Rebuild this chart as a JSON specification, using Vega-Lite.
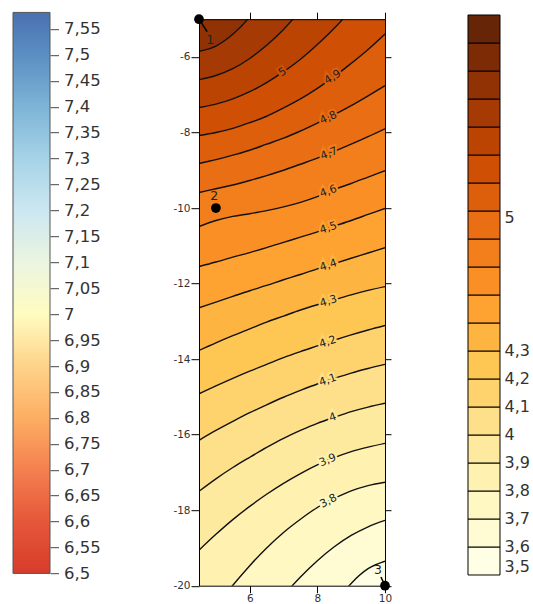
{
"$schema": "https://vega.github.io/schema/vega-lite/v6.json",
"padding": {"left": 12, "top": 11.2, "right": 0, "bottom": 0},
"config": {"view": {"stroke": null}, "font": "DejaVu Sans", "axis": {"labelFont": "DejaVu Sans"}},
"datasets": {
"grad": [{"lo": 6.5, "hi": 7.582}],
"bands": [
{"lo":3.5,"hi":3.6},{"lo":3.6,"hi":3.7},{"lo":3.7,"hi":3.8},{"lo":3.8,"hi":3.9},{"lo":3.9,"hi":4},
{"lo":4,"hi":4.1},{"lo":4.1,"hi":4.2},{"lo":4.2,"hi":4.3},{"lo":4.3,"hi":4.4},{"lo":4.4,"hi":4.5},
{"lo":4.5,"hi":4.6},{"lo":4.6,"hi":4.7},{"lo":4.7,"hi":4.8},{"lo":4.8,"hi":4.9},{"lo":4.9,"hi":5},
{"lo":5,"hi":5.1},{"lo":5.1,"hi":5.2},{"lo":5.2,"hi":5.3},{"lo":5.3,"hi":5.4},{"lo":5.4,"hi":5.5}
],
"contours": [
{"level":3.5,"x":4.5,"y":-30},{"level":3.5,"x":5,"y":-30},{"level":3.5,"x":5.5,"y":-30},{"level":3.5,"x":6,"y":-30},{"level":3.5,"x":6.5,"y":-30},{"level":3.5,"x":7,"y":-30},{"level":3.5,"x":7.5,"y":-30},{"level":3.5,"x":8,"y":-30},{"level":3.5,"x":8.5,"y":-30},{"level":3.5,"x":9,"y":-30},{"level":3.5,"x":9.5,"y":-30},{"level":3.5,"x":10,"y":-30},
{"level":3.6,"x":4.5,"y":-26},{"level":3.6,"x":5,"y":-25.5},{"level":3.6,"x":5.5,"y":-25},{"level":3.6,"x":6,"y":-24.5},{"level":3.6,"x":6.5,"y":-24},{"level":3.6,"x":7,"y":-23.03},{"level":3.6,"x":7.5,"y":-22.17},{"level":3.6,"x":8,"y":-21.24},{"level":3.6,"x":8.5,"y":-20.5},{"level":3.6,"x":9,"y":-19.94},{"level":3.6,"x":9.5,"y":-19.55},{"level":3.6,"x":10,"y":-19.35},
{"level":3.7,"x":4.5,"y":-23.71},{"level":3.7,"x":5,"y":-22.89},{"level":3.7,"x":5.5,"y":-22.14},{"level":3.7,"x":6,"y":-21.45},{"level":3.7,"x":6.5,"y":-20.82},{"level":3.7,"x":7,"y":-20.26},{"level":3.7,"x":7.5,"y":-19.77},{"level":3.7,"x":8,"y":-19.34},{"level":3.7,"x":8.5,"y":-18.97},{"level":3.7,"x":9,"y":-18.67},{"level":3.7,"x":9.5,"y":-18.44},{"level":3.7,"x":10,"y":-18.27},
{"level":3.8,"x":4.5,"y":-21.18},{"level":3.8,"x":5,"y":-20.56},{"level":3.8,"x":5.5,"y":-19.99},{"level":3.8,"x":6,"y":-19.47},{"level":3.8,"x":6.5,"y":-19.0},{"level":3.8,"x":7,"y":-18.59},{"level":3.8,"x":7.5,"y":-18.24},{"level":3.8,"x":8,"y":-17.93},{"level":3.8,"x":8.5,"y":-17.69},{"level":3.8,"x":9,"y":-17.49},{"level":3.8,"x":9.5,"y":-17.35},{"level":3.8,"x":10,"y":-17.26},
{"level":3.9,"x":4.5,"y":-19.06},{"level":3.9,"x":5,"y":-18.64},{"level":3.9,"x":5.5,"y":-18.25},{"level":3.9,"x":6,"y":-17.9},{"level":3.9,"x":6.5,"y":-17.58},{"level":3.9,"x":7,"y":-17.29},{"level":3.9,"x":7.5,"y":-17.03},{"level":3.9,"x":8,"y":-16.8},{"level":3.9,"x":8.5,"y":-16.61},{"level":3.9,"x":9,"y":-16.45},{"level":3.9,"x":9.5,"y":-16.33},{"level":3.9,"x":10,"y":-16.23},
{"level":4,"x":4.5,"y":-17.5},{"level":4,"x":5,"y":-17.17},{"level":4,"x":5.5,"y":-16.87},{"level":4,"x":6,"y":-16.6},{"level":4,"x":6.5,"y":-16.34},{"level":4,"x":7,"y":-16.1},{"level":4,"x":7.5,"y":-15.89},{"level":4,"x":8,"y":-15.7},{"level":4,"x":8.5,"y":-15.54},{"level":4,"x":9,"y":-15.39},{"level":4,"x":9.5,"y":-15.27},{"level":4,"x":10,"y":-15.17},
{"level":4.1,"x":4.5,"y":-16.15},{"level":4.1,"x":5,"y":-15.89},{"level":4.1,"x":5.5,"y":-15.65},{"level":4.1,"x":6,"y":-15.42},{"level":4.1,"x":6.5,"y":-15.21},{"level":4.1,"x":7,"y":-15.01},{"level":4.1,"x":7.5,"y":-14.83},{"level":4.1,"x":8,"y":-14.66},{"level":4.1,"x":8.5,"y":-14.51},{"level":4.1,"x":9,"y":-14.37},{"level":4.1,"x":9.5,"y":-14.25},{"level":4.1,"x":10,"y":-14.14},
{"level":4.2,"x":4.5,"y":-14.92},{"level":4.2,"x":5,"y":-14.71},{"level":4.2,"x":5.5,"y":-14.51},{"level":4.2,"x":6,"y":-14.32},{"level":4.2,"x":6.5,"y":-14.14},{"level":4.2,"x":7,"y":-13.96},{"level":4.2,"x":7.5,"y":-13.8},{"level":4.2,"x":8,"y":-13.65},{"level":4.2,"x":8.5,"y":-13.5},{"level":4.2,"x":9,"y":-13.36},{"level":4.2,"x":9.5,"y":-13.23},{"level":4.2,"x":10,"y":-13.11},
{"level":4.3,"x":4.5,"y":-13.77},{"level":4.3,"x":5,"y":-13.57},{"level":4.3,"x":5.5,"y":-13.38},{"level":4.3,"x":6,"y":-13.2},{"level":4.3,"x":6.5,"y":-13.02},{"level":4.3,"x":7,"y":-12.86},{"level":4.3,"x":7.5,"y":-12.7},{"level":4.3,"x":8,"y":-12.56},{"level":4.3,"x":8.5,"y":-12.43},{"level":4.3,"x":9,"y":-12.3},{"level":4.3,"x":9.5,"y":-12.18},{"level":4.3,"x":10,"y":-12.08},
{"level":4.4,"x":4.5,"y":-12.64},{"level":4.4,"x":5,"y":-12.49},{"level":4.4,"x":5.5,"y":-12.34},{"level":4.4,"x":6,"y":-12.19},{"level":4.4,"x":6.5,"y":-12.05},{"level":4.4,"x":7,"y":-11.9},{"level":4.4,"x":7.5,"y":-11.76},{"level":4.4,"x":8,"y":-11.61},{"level":4.4,"x":8.5,"y":-11.47},{"level":4.4,"x":9,"y":-11.33},{"level":4.4,"x":9.5,"y":-11.19},{"level":4.4,"x":10,"y":-11.05},
{"level":4.5,"x":4.5,"y":-11.55},{"level":4.5,"x":5,"y":-11.43},{"level":4.5,"x":5.5,"y":-11.3},{"level":4.5,"x":6,"y":-11.18},{"level":4.5,"x":6.5,"y":-11.05},{"level":4.5,"x":7,"y":-10.91},{"level":4.5,"x":7.5,"y":-10.77},{"level":4.5,"x":8,"y":-10.63},{"level":4.5,"x":8.5,"y":-10.48},{"level":4.5,"x":9,"y":-10.33},{"level":4.5,"x":9.5,"y":-10.17},{"level":4.5,"x":10,"y":-10.01},
{"level":4.6,"x":4.5,"y":-10.49},{"level":4.6,"x":5,"y":-10.33},{"level":4.6,"x":5.5,"y":-10.22},{"level":4.6,"x":6,"y":-10.15},{"level":4.6,"x":6.5,"y":-10.07},{"level":4.6,"x":7,"y":-9.97},{"level":4.6,"x":7.5,"y":-9.85},{"level":4.6,"x":8,"y":-9.7},{"level":4.6,"x":8.5,"y":-9.51},{"level":4.6,"x":9,"y":-9.35},{"level":4.6,"x":9.5,"y":-9.18},{"level":4.6,"x":10,"y":-9.01},
{"level":4.7,"x":4.5,"y":-9.59},{"level":4.7,"x":5,"y":-9.49},{"level":4.7,"x":5.5,"y":-9.39},{"level":4.7,"x":6,"y":-9.27},{"level":4.7,"x":6.5,"y":-9.14},{"level":4.7,"x":7,"y":-9.0},{"level":4.7,"x":7.5,"y":-8.84},{"level":4.7,"x":8,"y":-8.68},{"level":4.7,"x":8.5,"y":-8.5},{"level":4.7,"x":9,"y":-8.31},{"level":4.7,"x":9.5,"y":-8.11},{"level":4.7,"x":10,"y":-7.9},
{"level":4.8,"x":4.5,"y":-8.82},{"level":4.8,"x":5,"y":-8.72},{"level":4.8,"x":5.5,"y":-8.6},{"level":4.8,"x":6,"y":-8.47},{"level":4.8,"x":6.5,"y":-8.31},{"level":4.8,"x":7,"y":-8.15},{"level":4.8,"x":7.5,"y":-7.96},{"level":4.8,"x":8,"y":-7.75},{"level":4.8,"x":8.5,"y":-7.53},{"level":4.8,"x":9,"y":-7.29},{"level":4.8,"x":9.5,"y":-7.03},{"level":4.8,"x":10,"y":-6.76},
{"level":4.9,"x":4.5,"y":-8.08},{"level":4.9,"x":5,"y":-8.0},{"level":4.9,"x":5.5,"y":-7.89},{"level":4.9,"x":6,"y":-7.74},{"level":4.9,"x":6.5,"y":-7.57},{"level":4.9,"x":7,"y":-7.35},{"level":4.9,"x":7.5,"y":-7.11},{"level":4.9,"x":8,"y":-6.83},{"level":4.9,"x":8.5,"y":-6.52},{"level":4.9,"x":9,"y":-6.17},{"level":4.9,"x":9.5,"y":-5.8},{"level":4.9,"x":10,"y":-5.39},
{"level":5,"x":4.5,"y":-7.34},{"level":5,"x":5,"y":-7.25},{"level":5,"x":5.5,"y":-7.11},{"level":5,"x":6,"y":-6.92},{"level":5,"x":6.5,"y":-6.68},{"level":5,"x":7,"y":-6.39},{"level":5,"x":7.5,"y":-6.06},{"level":5,"x":8,"y":-5.67},{"level":5,"x":8.5,"y":-5.24},{"level":5,"x":9,"y":-4.75},{"level":5,"x":9.5,"y":-4.22},{"level":5,"x":10,"y":-3.64},
{"level":5.1,"x":4.5,"y":-6.6},{"level":5.1,"x":5,"y":-6.49},{"level":5.1,"x":5.5,"y":-6.31},{"level":5.1,"x":6,"y":-6.04},{"level":5.1,"x":6.5,"y":-5.69},{"level":5.1,"x":7,"y":-5.27},{"level":5.1,"x":7.5,"y":-4.76},{"level":5.1,"x":8,"y":-4.17},{"level":5.1,"x":8.5,"y":-3.51},{"level":5.1,"x":9,"y":-2.76},{"level":5.1,"x":9.5,"y":-1.93},{"level":5.1,"x":10,"y":-1.03},
{"level":5.2,"x":4.5,"y":-5.85},{"level":5.2,"x":5,"y":-5.71},{"level":5.2,"x":5.5,"y":-5.4},{"level":5.2,"x":6,"y":-4.94},{"level":5.2,"x":6.5,"y":-4.31},{"level":5.2,"x":7,"y":-3.53},{"level":5.2,"x":7.5,"y":-2.59},{"level":5.2,"x":8,"y":-1.49},{"level":5.2,"x":8.5,"y":-0.28},{"level":5.2,"x":9,"y":1.18},{"level":5.2,"x":9.5,"y":2.76},{"level":5.2,"x":10,"y":4.48},
{"level":5.3,"x":4.5,"y":8},{"level":5.3,"x":5,"y":8},{"level":5.3,"x":5.5,"y":8},{"level":5.3,"x":6,"y":8},{"level":5.3,"x":6.5,"y":8},{"level":5.3,"x":7,"y":8},{"level":5.3,"x":7.5,"y":8},{"level":5.3,"x":8,"y":8},{"level":5.3,"x":8.5,"y":8},{"level":5.3,"x":9,"y":8},{"level":5.3,"x":9.5,"y":8},{"level":5.3,"x":10,"y":8}
],
"labels": [
{"x":6.976,"y":-6.407,"text":"5","angle":-32,"level":5},
{"x":8.456,"y":-6.54,"text":"4,9","angle":-32,"level":4.9},
{"x":8.328,"y":-7.614,"text":"4,8","angle":-25,"level":4.8},
{"x":8.346,"y":-8.566,"text":"4,7","angle":-21,"level":4.7},
{"x":8.328,"y":-9.563,"text":"4,6","angle":-20,"level":4.6},
{"x":8.328,"y":-10.534,"text":"4,5","angle":-18,"level":4.5},
{"x":8.328,"y":-11.521,"text":"4,4","angle":-18,"level":4.4},
{"x":8.328,"y":-12.474,"text":"4,3","angle":-17,"level":4.3},
{"x":8.308,"y":-13.55,"text":"4,2","angle":-18,"level":4.2},
{"x":8.308,"y":-14.563,"text":"4,1","angle":-19,"level":4.1},
{"x":8.456,"y":-15.55,"text":"4","angle":-19,"level":4},
{"x":8.308,"y":-16.68,"text":"3,9","angle":-23,"level":3.9},
{"x":8.328,"y":-17.765,"text":"3,8","angle":-28,"level":3.8}
],
"points": [
{"name":"1","x":4.5,"y":-5,"lx":4.83,"ly":-5.55,"ex":4.74,"ey":-5.33},
{"name":"2","x":5,"y":-10,"lx":4.95,"ly":-9.67,"ex":5,"ey":-10},
{"name":"3","x":10,"y":-20,"lx":9.79,"ly":-19.59,"ex":9.88,"ey":-19.77}
]
},
"spacing": 71,
"hconcat": [
{
"width": 37, "height": 554.2,
"data": {"name": "grad"},
"mark": {"type": "rect", "stroke": "#555", "strokeWidth": 1,
  "fill": {"gradient": "linear", "x1": 0, "y1": 1, "x2": 0, "y2": 0, "stops": [
    {"offset": 0, "color": "#d73c2b"}, {"offset": 0.092, "color": "#e5573a"}, {"offset": 0.185, "color": "#f4804f"},
    {"offset": 0.277, "color": "#fdae63"}, {"offset": 0.37, "color": "#fed38a"}, {"offset": 0.462, "color": "#fffcc0"},
    {"offset": 0.555, "color": "#ebf5e0"}, {"offset": 0.647, "color": "#cbe7f1"}, {"offset": 0.739, "color": "#a6d3e7"},
    {"offset": 0.832, "color": "#7db4d6"}, {"offset": 0.924, "color": "#5b8fc3"}, {"offset": 1, "color": "#4a70b0"}]}},
"encoding": {
  "x": {"datum": 0, "type": "quantitative", "scale": {"domain": [0, 1]}, "axis": null},
  "x2": {"datum": 1},
  "y": {"field": "lo", "type": "quantitative", "scale": {"domain": [6.5, 7.5689], "nice": false, "zero": false},
    "axis": {"orient": "right", "values": [6.5,6.55,6.6,6.65,6.7,6.75,6.8,6.85,6.9,6.95,7,7.05,7.1,7.15,7.2,7.25,7.3,7.35,7.4,7.45,7.5,7.55],
      "labelExpr": "replace(format(datum.value, '.2~f'), '.', ',')", "domain": false, "grid": false, "tickSize": 8.5, "tickColor": "#444",
      "labelPadding": 5, "labelFontSize": 16.5, "labelColor": "#333", "title": null, "labelOverlap": false, "labelFlush": false, "labelBound": false}},
  "y2": {"field": "hi"}
}
},
{
"spacing": 75,
"hconcat": [
{
"width": 186, "height": 566.5,
"resolve": {"axis": {"x": "independent", "y": "independent"}},
"layer": [
{
"data": {"name": "contours"},
"transform": [
  {"window": [{"op": "lag", "field": "y", "as": "ylow"}], "groupby": ["x"], "sort": [{"field": "level", "order": "ascending"}]},
  {"filter": "datum.ylow != null"}
],
"mark": {"type": "area", "clip": true, "interpolate": "monotone"},
"encoding": {
  "x": {"field": "x", "type": "quantitative", "scale": {"domain": [4.5, 10], "nice": false, "zero": false},
    "axis": {"orient": "bottom", "values": [6, 8, 10], "labelExpr": "'' + datum.value", "tickSize": 7, "tickColor": "black", "domainColor": "black",
      "labelPadding": 1, "labelFontSize": 10.5, "labelColor": "#333", "grid": false, "title": null, "zindex": 1, "labelFlush": false}},
  "y": {"field": "y", "type": "quantitative", "scale": {"domain": [-20, -5], "nice": false, "zero": false},
    "axis": {"orient": "left", "values": [-6, -8, -10, -12, -14, -16, -18, -20], "labelExpr": "'' + datum.value", "tickSize": 8, "tickColor": "black",
      "domainColor": "black", "labelPadding": 1, "labelFontSize": 10.5, "labelColor": "#333", "grid": false, "title": null, "zindex": 1}},
  "y2": {"field": "ylow"},
  "color": {"field": "level", "type": "ordinal", "legend": null,
    "scale": {"domain": [3.6,3.7,3.8,3.9,4,4.1,4.2,4.3,4.4,4.5,4.6,4.7,4.8,4.9,5,5.1,5.2,5.3,5.4,5.5],
      "range": ["#ffffe5","#fffcd4","#fff8c3","#fff2b1","#feea9f","#fee08a","#fed36e","#fec653","#feb441","#fea231","#fa9025","#f37f1c","#ea6e13","#dd5f0c","#cf5004","#bc4403","#a63a04","#913204","#7c2b05","#662506"]}}
}
},
{
"data": {"name": "contours"},
"transform": [{"filter": "datum.level >= 3.6 && datum.level <= 5.2"}],
"mark": {"type": "line", "clip": true, "interpolate": "monotone", "color": "#111", "strokeWidth": 1.4},
"encoding": {
  "x": {"field": "x", "type": "quantitative", "scale": {"domain": [4.5, 10], "nice": false, "zero": false},
    "axis": {"orient": "top", "values": [6, 8, 10], "labels": false, "tickSize": 7, "tickColor": "black", "domainColor": "black", "grid": false, "title": null, "zindex": 1}},
  "y": {"field": "y", "type": "quantitative", "scale": {"domain": [-20, -5], "nice": false, "zero": false},
    "axis": {"orient": "right", "values": [-6, -8, -10, -12, -14, -16, -18, -20], "labels": false, "tickSize": 6, "tickColor": "black", "domainColor": "black", "grid": false, "title": null, "zindex": 1}},
  "detail": {"field": "level", "type": "nominal"}
}
},
{
"data": {"name": "labels"},
"mark": {"type": "text", "fontSize": 11, "strokeWidth": 4, "fillOpacity": 0, "align": "center", "baseline": "middle"},
"encoding": {
  "x": {"field": "x", "type": "quantitative", "axis": null},
  "y": {"field": "y", "type": "quantitative", "axis": null},
  "text": {"field": "text"},
  "angle": {"field": "angle", "type": "quantitative", "scale": null},
  "stroke": {"field": "level", "type": "ordinal", "legend": null,
    "scale": {"domain": [3.8,3.9,4,4.1,4.2,4.3,4.4,4.5,4.6,4.7,4.8,4.9,5],
      "range": ["#fff8c3","#fff2b1","#feea9f","#fee08a","#fed36e","#fec653","#feb441","#fea231","#fa9025","#f37f1c","#ea6e13","#dd5f0c","#cf5004"]}}
}
},
{
"data": {"name": "labels"},
"mark": {"type": "text", "fontSize": 11, "color": "#222", "align": "center", "baseline": "middle"},
"encoding": {
  "x": {"field": "x", "type": "quantitative", "axis": null},
  "y": {"field": "y", "type": "quantitative", "axis": null},
  "text": {"field": "text"},
  "angle": {"field": "angle", "type": "quantitative", "scale": null}
}
},
{
"data": {"name": "points"},
"mark": {"type": "rule", "color": "black", "strokeWidth": 1.5},
"encoding": {
  "x": {"field": "x", "type": "quantitative", "axis": null},
  "y": {"field": "y", "type": "quantitative", "axis": null},
  "x2": {"field": "ex"},
  "y2": {"field": "ey"}
}
},
{
"data": {"name": "points"},
"mark": {"type": "circle", "size": 95, "color": "black", "opacity": 1},
"encoding": {
  "x": {"field": "x", "type": "quantitative", "axis": null},
  "y": {"field": "y", "type": "quantitative", "axis": null}
}
},
{
"data": {"name": "points"},
"mark": {"type": "text", "fontSize": 12.5, "color": "#222", "align": "center", "baseline": "middle"},
"encoding": {
  "x": {"field": "lx", "type": "quantitative", "axis": null},
  "y": {"field": "ly", "type": "quantitative", "axis": null},
  "text": {"field": "name"}
}
}
]
},
{
"width": 32, "height": 555.8,
"data": {"name": "bands"},
"mark": {"type": "rect", "stroke": "black", "strokeWidth": 1},
"encoding": {
  "x": {"datum": 0, "type": "quantitative", "scale": {"domain": [0, 1]}, "axis": null},
  "x2": {"datum": 1},
  "y": {"field": "lo", "type": "quantitative", "scale": {"domain": [3.5, 5.485], "nice": false, "zero": false},
    "axis": {"orient": "right", "values": [3.5,3.6,3.7,3.8,3.9,4,4.1,4.2,4.3,4.776],
      "labelExpr": "datum.value > 4.5 ? '5' : replace(format(datum.value, '.1~f'), '.', ',')",
      "domain": false, "ticks": false, "grid": false, "labelPadding": 4, "labelFontSize": 16, "labelColor": "#333", "title": null,
      "labelFlush": true, "labelFlushOffset": 0, "labelOverlap": false}},
  "y2": {"field": "hi"},
  "color": {"field": "hi", "type": "ordinal", "legend": null,
    "scale": {"domain": [3.6,3.7,3.8,3.9,4,4.1,4.2,4.3,4.4,4.5,4.6,4.7,4.8,4.9,5,5.1,5.2,5.3,5.4,5.5],
      "range": ["#ffffe5","#fffcd4","#fff8c3","#fff2b1","#feea9f","#fee08a","#fed36e","#fec653","#feb441","#fea231","#fa9025","#f37f1c","#ea6e13","#dd5f0c","#cf5004","#bc4403","#a63a04","#913204","#7c2b05","#662506"]}}
}
}
]
}
]
}
